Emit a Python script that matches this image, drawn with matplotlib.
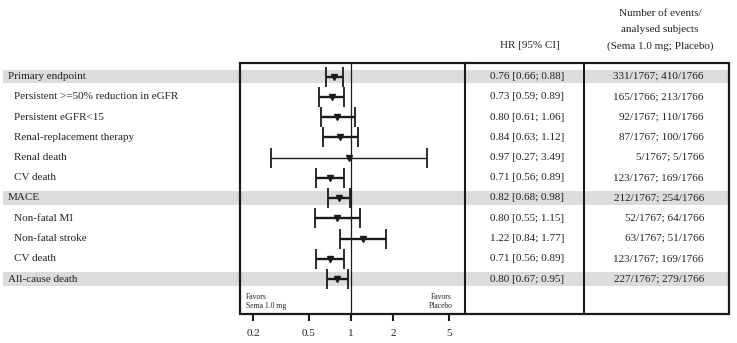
import matplotlib
matplotlib.use("Agg")
import matplotlib.pyplot as plt
import numpy as np

labels = ["Primary endpoint", "Persistent >=50% reduction in eGFR", "Persistent eGFR<15",
          "Renal-replacement therapy", "Renal death", "CV death", "MACE",
          "Non-fatal MI", "Non-fatal stroke", "CV death", "All-cause death"]
is_main = [True, False, False, False, False, False, True, False, False, False, True]
hr = [0.76, 0.73, 0.80, 0.84, 0.97, 0.71, 0.82, 0.80, 1.22, 0.71, 0.80]
lo = [0.66, 0.59, 0.61, 0.63, 0.27, 0.56, 0.68, 0.55, 0.84, 0.56, 0.67]
hi = [0.88, 0.89, 1.06, 1.12, 3.49, 0.89, 0.98, 1.15, 1.77, 0.89, 0.95]
events = ["331/1767; 410/1766", "165/1766; 213/1766", "92/1767; 110/1766",
          "87/1767; 100/1766", "5/1767; 5/1766", "123/1767; 169/1766",
          "212/1767; 254/1766", "52/1767; 64/1766", "63/1767; 51/1766",
          "123/1767; 169/1766", "227/1767; 279/1766"]
xticks = [0.2, 0.5, 1, 2, 5]
xticklabels = ["0.2", "0.5", "1", "2", "5"]

plt.rcParams['font.family'] = ['Liberation Serif', 'DejaVu Serif']

W, H = 737, 343
fig = plt.figure(figsize=(W / 100, H / 100), dpi=100)

bg = fig.add_axes([0, 0, 1, 1])
bg.set_xlim(0, W)
bg.set_ylim(H, 0)
bg.axis('off')

row_y0, row_dy = 76.5, 20.25
box_l, box_r, box_t, box_b = 240, 729, 63, 314
div1, div2 = 465, 584

fs = 8
for i, lab in enumerate(labels):
    y = row_y0 + i * row_dy
    if is_main[i]:
        bg.add_patch(plt.Rectangle((3, y - 6.8), box_r - 3, 13.6, color='#dcdcdc', lw=0, zorder=0))
    bg.text(8 if is_main[i] else 14, y, lab, fontsize=fs, va='center', ha='left', color='#222222')
    hr_txt = f"{hr[i]:.2f} [{lo[i]:.2f}; {hi[i]:.2f}]"
    bg.text(527, y, hr_txt, fontsize=fs, va='center', ha='center', color='#222222')
    bg.text(704, y, events[i], fontsize=fs, va='center', ha='right', color='#222222')

bg.text(530, 45, "HR [95% CI]", fontsize=fs, va='center', ha='center', color='#222222')
bg.text(660, 13, "Number of events/", fontsize=fs, va='center', ha='center', color='#222222')
bg.text(660, 29, "analysed subjects", fontsize=fs, va='center', ha='center', color='#222222')
bg.text(660, 46, "(Sema 1.0 mg; Placebo)", fontsize=fs, va='center', ha='center', color='#222222')

bg.text(246, 297, "Favors", fontsize=5.5, va='center', ha='left', color='#222222')
bg.text(246, 306.5, "Sema 1.0 mg", fontsize=5.5, va='center', ha='left', color='#222222')
bg.text(441, 297, "Favors", fontsize=5.5, va='center', ha='center', color='#222222')
bg.text(441, 306.5, "Placebo", fontsize=5.5, va='center', ha='center', color='#222222')

bg.add_patch(plt.Rectangle((box_l, box_t), box_r - box_l, box_b - box_t, fill=False,
                           ec='#1a1a1a', lw=1.6, zorder=5))
bg.plot([div1, div1], [box_t, box_b], color='#1a1a1a', lw=1.5, zorder=5)
bg.plot([div2, div2], [box_t, box_b], color='#1a1a1a', lw=1.5, zorder=5)

# forest axes
x_center, px_per_dec = 351, 140.2
xmin = 10 ** ((box_l - x_center) / px_per_dec)
xmax = 10 ** ((div1 - x_center) / px_per_dec)
ax = fig.add_axes([box_l / W, 1 - box_b / H, (div1 - box_l) / W, (box_b - box_t) / H])
ax.patch.set_alpha(0)
ax.set_xscale('log')
ax.set_xlim(xmin, xmax)
ylo = (box_b - row_y0) / row_dy
yhi = (box_t - row_y0) / row_dy
ax.set_ylim(ylo, yhi)
for s in ax.spines.values():
    s.set_visible(False)
ax.set_yticks([])
ax.set_xticks(xticks)
ax.set_xticklabels(xticklabels)
ax.xaxis.set_minor_locator(matplotlib.ticker.NullLocator())
ax.tick_params(axis='x', direction='out', length=5, width=1.5, pad=6, labelsize=fs,
               color='#1a1a1a', labelcolor='#222222')

ax.axvline(1, color='#1a1a1a', lw=0.9, zorder=3)
rows = np.arange(len(labels))
hr_a = np.array(hr)
err = np.vstack([hr_a - np.array(lo), np.array(hi) - hr_a])
for i in rows:
    lw = 1.0 if labels[i] == "Renal death" else 1.7
    ax.errorbar([hr[i]], [i], xerr=err[:, i:i + 1], fmt='v', color='#1a1a1a',
                ms=4.5, elinewidth=lw, capsize=7.5, capthick=1.3, zorder=4)

fig.savefig("out.png", dpi=100)
